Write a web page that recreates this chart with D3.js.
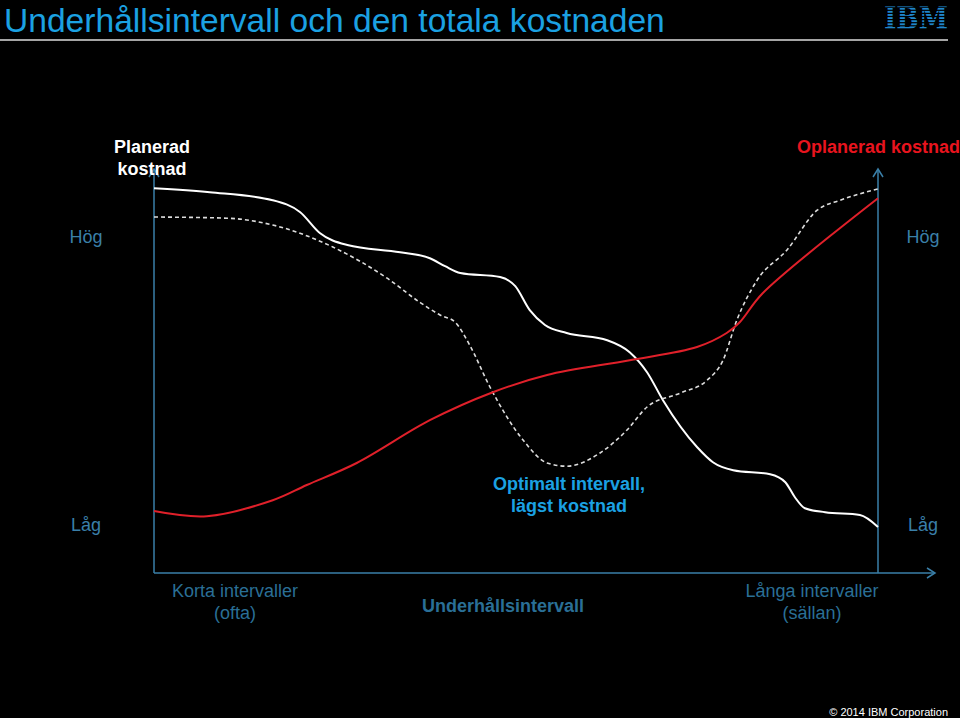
<!DOCTYPE html>
<html>
<head>
<meta charset="utf-8">
<script src="https://cdn.jsdelivr.net/npm/d3@7"></script>
<style>
  html, body { margin: 0; padding: 0; background: #000; }
  svg { display: block; font-family: "Liberation Sans", Arial, sans-serif; }
</style>
</head>
<body>
<svg width="960" height="718"></svg>
<script>
// interval on x (0 = short / often, 100 = long / seldom), cost on y (0 = low, 100 = high)
var plannedX = [0, 7.7, 16.4, 20.2, 22.9, 26.7, 34.0, 38.1, 40.2, 42.3, 47.8, 49.9, 51.9, 54.0, 57.0, 62.6, 65.7, 68.1, 70.3, 75.0, 77.2, 80.0, 85.1, 87.2, 88.5, 89.9, 92.7, 97.5, 100];
var plannedY = [96.2, 95.2, 93.2, 90.2, 85, 82, 80.2, 78.7, 76.7, 75, 74, 71.7, 65.7, 62, 60, 58.2, 55.2, 50.2, 43.2, 31.5, 27.7, 25.7, 24.7, 22.7, 19, 16.2, 15.2, 14.5, 11.5];

var totalX = [0, 10.1, 16.4, 24.7, 32.2, 36.7, 39.5, 41.6, 43.6, 46.4, 51.0, 54.3, 57.0, 61.6, 65.3, 68.1, 72.7, 76.4, 78.6, 80.5, 83.3, 87.4, 91.6, 94.8, 100];
var totalY = [89, 88.7, 87, 81.5, 73.7, 67.7, 64.5, 62.7, 57, 46.5, 33.2, 27.5, 26.7, 30, 35.7, 41.5, 45, 48.2, 53.2, 63.2, 73.2, 80.7, 90.7, 93.2, 96];

var unplannedX = [0, 7.3, 16.4, 21.1, 28.0, 38.1, 46.8, 54.3, 65.7, 75.0, 79.1, 80.9, 84.1, 100];
var unplannedY = [15.5, 14.2, 18.2, 22, 27.5, 38.2, 45.2, 49.5, 53.2, 56.5, 60, 62.7, 70, 93.7];

var levelLabels = ["Hög", "Låg"];
var levelValues = [84, 12];

var svg = d3.select("svg"),
    width = +svg.attr("width"),
    height = +svg.attr("height");

var blue = "#1ba1e2",
    axisBlue = "#3a7fa8",
    dimBlue = "#2a6f96";

var x = d3.scaleLinear().domain([0, 100]).range([154, 878]);
var y = d3.scaleLinear().domain([0, 100]).range([573, 173]);

function zip(xs, ys) { return xs.map(function(v, i) { return [v, ys[i]]; }); }

// title
svg.append("text")
    .attr("x", 4).attr("y", 32)
    .attr("fill", blue)
    .attr("font-size", 33.6)
    .text("Underhållsintervall och den totala kostnaden");

svg.append("line")
    .attr("x1", 0).attr("x2", 948)
    .attr("y1", 40).attr("y2", 40)
    .attr("stroke", "#ddd").attr("stroke-width", 1.5);

// IBM logo, text with black stripes over it
var logo = svg.append("g");
logo.append("text")
    .attr("x", 884).attr("y", 29)
    .attr("textLength", 64).attr("lengthAdjust", "spacingAndGlyphs")
    .attr("font-family", "DejaVu Serif, serif")
    .attr("font-weight", "bold")
    .attr("font-size", 31)
    .attr("fill", "#1f86cc")
    .text("IBM");
logo.selectAll("rect")
    .data(d3.range(8))
    .enter().append("rect")
    .attr("x", 882).attr("width", 70)
    .attr("y", function(d) { return 6.6 + d * 3.1; })
    .attr("height", 1.2)
    .attr("fill", "#000");

// axes
var ax = svg.append("g").attr("stroke", axisBlue).attr("stroke-width", 1.5).attr("fill", "none");
var x0 = x(0), x1 = x(100), yb = y(0), yt = y(100) - 4;
ax.append("line").attr("x1", x0).attr("x2", x0).attr("y1", yb).attr("y2", yt);
ax.append("line").attr("x1", x1).attr("x2", x1).attr("y1", yb).attr("y2", yt);
ax.append("line").attr("x1", x0).attr("x2", 935).attr("y1", yb).attr("y2", yb);
ax.append("path").attr("d", "M" + (x0 - 5) + "," + (yt + 8) + "L" + x0 + "," + yt + "L" + (x0 + 5) + "," + (yt + 8));
ax.append("path").attr("d", "M" + (x1 - 5) + "," + (yt + 8) + "L" + x1 + "," + yt + "L" + (x1 + 5) + "," + (yt + 8));
ax.append("path").attr("d", "M927," + (yb - 5) + "L935," + yb + "L927," + (yb + 5));

// curves
var line = d3.line()
    .x(function(d) { return x(d[0]); })
    .y(function(d) { return y(d[1]); })
    .curve(d3.curveMonotoneX);

svg.append("path")
    .datum(zip(plannedX, plannedY))
    .attr("d", line)
    .attr("fill", "none").attr("stroke", "#fff").attr("stroke-width", 2);

svg.append("path")
    .datum(zip(totalX, totalY))
    .attr("d", line)
    .attr("fill", "none").attr("stroke", "#ddd").attr("stroke-width", 1.6)
    .attr("stroke-dasharray", "4,3");

svg.append("path")
    .datum(zip(unplannedX, unplannedY))
    .attr("d", line.curve(d3.curveCatmullRom.alpha(0.5)))
    .attr("fill", "none").attr("stroke", "#e0202a").attr("stroke-width", 2);

// level labels on both sides
svg.selectAll(".lvl-l")
    .data(levelLabels)
    .enter().append("text")
    .attr("x", 86)
    .attr("y", function(d, i) { return y(levelValues[i]) + 6; })
    .attr("text-anchor", "middle")
    .attr("font-size", 18).attr("fill", axisBlue)
    .text(function(d) { return d; });

svg.selectAll(".lvl-r")
    .data(levelLabels)
    .enter().append("text")
    .attr("x", 923)
    .attr("y", function(d, i) { return y(levelValues[i]) + 6; })
    .attr("text-anchor", "middle")
    .attr("font-size", 18).attr("fill", axisBlue)
    .text(function(d) { return d; });

function label(lines, cx, cy, opts) {
  var t = svg.append("text")
      .attr("text-anchor", opts.anchor || "middle")
      .attr("font-size", opts.size || 18)
      .attr("font-weight", opts.bold ? "bold" : "normal")
      .attr("fill", opts.color);
  lines.forEach(function(s, i) {
    t.append("tspan").attr("x", cx).attr("y", cy + i * 22).text(s);
  });
}

label(["Planerad", "kostnad"], 152, 153, { bold: true, color: "#fff" });
label(["Oplanerad kostnad"], 797, 153, { bold: true, color: "#e8141e", anchor: "start" });
label(["Optimalt intervall,", "lägst kostnad"], 569, 490, { bold: true, color: blue });
label(["Korta intervaller", "(ofta)"], 235, 597, { color: dimBlue });
label(["Underhållsintervall"], 503, 612, { bold: true, color: dimBlue });
label(["Långa intervaller", "(sällan)"], 812, 597, { color: dimBlue });

svg.append("text")
    .attr("x", 948).attr("y", 716)
    .attr("text-anchor", "end")
    .attr("font-size", 11).attr("fill", "#fff")
    .text("© 2014 IBM Corporation");
</script>
</body>
</html>
